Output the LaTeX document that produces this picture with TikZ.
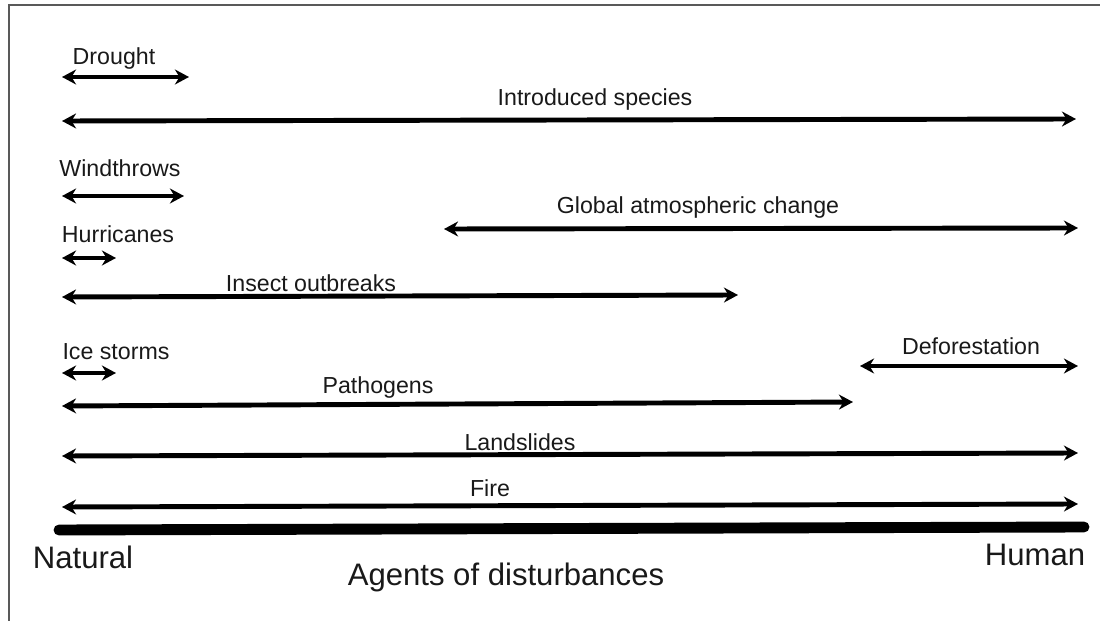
\documentclass[tikz,border=0pt]{standalone}
\usepackage{fontspec}
\setmainfont{Liberation Sans}
\usetikzlibrary{arrows.meta}

\begin{document}
\begin{tikzpicture}[x=0.02cm, y=-0.02cm,
    agent/.style={font=\fontsize{13.2}{15}\selectfont, text=black!90, inner sep=0pt},
    axislabel/.style={font=\fontsize{17.7}{20}\selectfont, text=black!90, inner sep=0pt},
    span/.style={line width=2.8pt, {Stealth[length=8pt,width=8.5pt]}-{Stealth[length=8pt,width=8.5pt]}}]
            \useasboundingbox (0,0) rectangle (1100,621);
            \draw[black!65, line width=1.1pt] (9,621) -- (9,5) -- (1100,5);

            % labels
            \node[agent] (drought) at (114, 59) {Drought};
            \node[agent] (intro) at (595, 100) {Introduced species};
            \node[agent] (wind) at (120, 168) {Windthrows};
            \node[agent] (global) at (698, 208) {Global atmospheric change};
            \node[agent] (hurr) at (118, 234) {Hurricanes};
            \node[agent] (insect) at (311, 283) {Insect outbreaks};
            \node[agent] (defor) at (971, 346) {Deforestation};
            \node[agent] (ice) at (116, 352) {Ice storms};
            \node[agent] (patho) at (378, 388) {Pathogens};
            \node[agent] (land) at (520, 442) {Landslides};
            \node[agent] (fire) at (490, 488) {Fire};

            % arrow ends
            \coordinate (d1) at (62, 77);   \coordinate (d2) at (189, 77);
            \coordinate (i1) at (62, 121);  \coordinate (i2) at (1076, 119);
            \coordinate (w1) at (62, 196);  \coordinate (w2) at (184, 196);
            \coordinate (g1) at (444, 229); \coordinate (g2) at (1078, 228);
            \coordinate (h1) at (62, 258);  \coordinate (h2) at (116, 258);
            \coordinate (n1) at (62, 297);  \coordinate (n2) at (738, 295);
            \coordinate (f1) at (860, 366); \coordinate (f2) at (1078, 366);
            \coordinate (c1) at (62, 373);  \coordinate (c2) at (116, 373);
            \coordinate (p1) at (62, 406);  \coordinate (p2) at (853, 402);
            \coordinate (l1) at (62, 456);  \coordinate (l2) at (1078, 453);
            \coordinate (r1) at (62, 507);  \coordinate (r2) at (1078, 504);

            \draw[span] (d1) -- (d2);
            \draw[span] (i1) -- (i2);
            \draw[span] (w1) -- (w2);
            \draw[span] (g1) -- (g2);
            \draw[span] (h1) -- (h2);
            \draw[span] (n1) -- (n2);
            \draw[span] (f1) -- (f2);
            \draw[span] (c1) -- (c2);
            \draw[span] (p1) -- (p2);
            \draw[span] (l1) -- (l2);
            \draw[span] (r1) -- (r2);

            % axis
            \coordinate (ax1) at (59, 530);
            \coordinate (ax2) at (1084, 527);
            \draw[line width=6.2pt, line cap=round] (ax1) -- (ax2);
            \node[axislabel] (natural) at (83, 557) {Natural};
            \node[axislabel] (human) at (1035, 555) {Human};
            \node[axislabel] (agents) at (506, 577) {Agents of disturbances};
        \end{tikzpicture}
\end{document}
